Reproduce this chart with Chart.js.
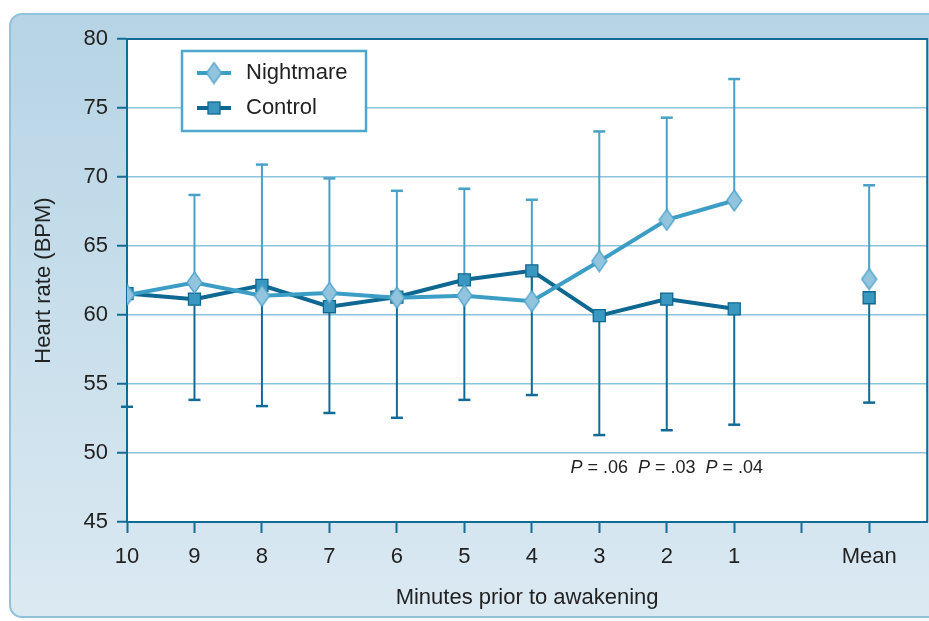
<!DOCTYPE html>
<html>
<head>
<meta charset="utf-8">
<script src="https://cdn.jsdelivr.net/npm/chart.js@4.4.1/dist/chart.umd.min.js"></script>
<style>
  html, body { margin: 0; padding: 0; background: #fff; overflow: hidden; }
</style>
</head>
<body>
<canvas id="mychart" width="937" height="621"></canvas>
<script>
// data
const categories = ['10', '9', '8', '7', '6', '5', '4', '3', '2', '1', '', 'Mean'];
const nightmare = [61.45, 62.35, 61.4, 61.6, 61.25, 61.4, 61.0, 63.9, 66.9, 68.3, null, 62.6];
const nightmareUpper = [null, 68.7, 70.9, 69.9, 69.0, 69.15, 68.35, 73.3, 74.3, 77.1, null, 69.4];
const control = [61.55, 61.15, 62.15, 60.6, 61.3, 62.55, 63.2, 59.95, 61.15, 60.45, null, 61.25];
const controlLower = [53.35, 53.85, 53.4, 52.9, 52.55, 53.85, 54.2, 51.3, 51.65, 52.05, null, 53.65];
const yTicks = [45, 50, 55, 60, 65, 70, 75, 80];
const pLabels = ['', '', '', '', '', '', '', '.06', '.03', '.04', '', ''];

const dark = '#136c96';
const gridCol = '#8cc4dc';
const FONT = '"Liberation Sans", Arial, Helvetica, sans-serif';

function diamond(w, h, fill, stroke) {
    const c = document.createElement('canvas');
    c.width = w + 2;
    c.height = h + 2;
    const g = c.getContext('2d');
    g.beginPath();
    g.moveTo(w / 2 + 1, 1);
    g.lineTo(w + 1, h / 2 + 1);
    g.lineTo(w / 2 + 1, h + 1);
    g.lineTo(1, h / 2 + 1);
    g.closePath();
    g.fillStyle = fill;
    g.fill();
    g.lineWidth = 1.3;
    g.strokeStyle = stroke;
    g.stroke();
    return c;
}
const diamondImg = diamond(15, 21, '#93c4dd', '#4fa5cb');

const toPoints = arr => arr.map((v, i) => ({x: i, y: v}));

// background frame + white plot area
const frame = {
    id: 'frame',
    beforeDraw(chart) {
        const {ctx, chartArea: a} = chart;
        ctx.save();
        const g = ctx.createLinearGradient(0, 15, 0, 617);
        g.addColorStop(0, '#b6d4e5');
        g.addColorStop(1, '#dbe9f2');
        ctx.beginPath();
        ctx.roundRect(10, 14, 950, 603, 12);
        ctx.fillStyle = g;
        ctx.fill();
        ctx.lineWidth = 2;
        ctx.strokeStyle = '#90c2da';
        ctx.stroke();
        ctx.fillStyle = '#fff';
        ctx.fillRect(a.left, a.top, a.right - a.left, a.bottom - a.top);
        ctx.restore();
    }
};

// one-sided error bars
const errorBars = {
    id: 'errorBars',
    beforeDatasetsDraw(chart) {
        const {ctx, scales: {x, y}} = chart;
        ctx.save();
        ctx.lineWidth = 2;
        function draw(means, ends, color) {
            ctx.strokeStyle = color;
            means.forEach((m, i) => {
                if (m == null || ends[i] == null) return;
                const px = x.getPixelForValue(i);
                const y0 = y.getPixelForValue(m);
                const y1 = y.getPixelForValue(ends[i]);
                ctx.beginPath();
                ctx.moveTo(px, y0);
                ctx.lineTo(px, y1);
                ctx.stroke();
                ctx.lineWidth = 2.5;
                ctx.beginPath();
                ctx.moveTo(px - 6, y1);
                ctx.lineTo(px + 6, y1);
                ctx.stroke();
                ctx.lineWidth = 2;
            });
        }
        draw(nightmare, nightmareUpper, '#48a2c8');
        draw(control, controlLower, '#126b94');
        ctx.restore();
    }
};

// plot border, legend box, P values
const extras = {
    id: 'extras',
    afterDraw(chart) {
        const {ctx, chartArea: a, scales: {x, y}} = chart;
        ctx.save();
        ctx.strokeStyle = dark;
        ctx.lineWidth = 2;
        ctx.beginPath();
        ctx.moveTo(a.left, a.top);
        ctx.lineTo(a.right, a.top);
        ctx.lineTo(a.right, a.bottom);
        ctx.stroke();

        // legend
        ctx.fillStyle = '#fff';
        ctx.fillRect(182, 51, 184, 80);
        ctx.strokeStyle = '#4fa7cc';
        ctx.lineWidth = 2.5;
        ctx.strokeRect(182, 51, 184, 80);
        const items = [
            {label: 'Nightmare', ds: chart.data.datasets[0], y: 73},
            {label: 'Control', ds: chart.data.datasets[1], y: 108}
        ];
        items.forEach(it => {
            ctx.strokeStyle = it.ds.borderColor;
            ctx.lineWidth = 4;
            ctx.beginPath();
            ctx.moveTo(197, it.y);
            ctx.lineTo(231, it.y);
            ctx.stroke();
            const ps = it.ds.pointStyle;
            if (ps instanceof HTMLCanvasElement) {
                ctx.drawImage(ps, 214 - ps.width / 2, it.y - ps.height / 2);
            } else {
                ctx.fillStyle = it.ds.pointBackgroundColor;
                ctx.strokeStyle = it.ds.pointBorderColor;
                ctx.lineWidth = 1.3;
                ctx.fillRect(208, it.y - 6, 12, 12);
                ctx.strokeRect(208, it.y - 6, 12, 12);
            }
            ctx.fillStyle = '#222';
            ctx.font = '22px ' + FONT;
            ctx.textBaseline = 'middle';
            ctx.textAlign = 'left';
            ctx.fillText(it.label, 246, it.y);
        });

        // P values
        ctx.fillStyle = '#222';
        ctx.textBaseline = 'middle';
        ctx.textAlign = 'left';
        const py = y.getPixelForValue(48.9);
        pLabels.forEach((p, i) => {
            if (!p) return;
            ctx.font = 'italic 18px ' + FONT;
            const w1 = ctx.measureText('P').width;
            ctx.font = '18px ' + FONT;
            const rest = ' = ' + p;
            const w2 = ctx.measureText(rest).width;
            const sx = x.getPixelForValue(i) - (w1 + w2) / 2;
            ctx.font = 'italic 18px ' + FONT;
            ctx.fillText('P', sx, py);
            ctx.font = '18px ' + FONT;
            ctx.fillText(rest, sx + w1, py);
        });
        ctx.restore();
    }
};

const canvas = document.getElementById('mychart');

const grafico = new Chart(canvas, {
    type: 'line',
    data: {
        datasets: [
            {
                label: 'Nightmare',
                data: toPoints(nightmare),
                borderColor: '#3d9ec5',
                borderWidth: 4,
                pointStyle: diamondImg,
                pointBackgroundColor: '#93c4dd',
                pointBorderColor: '#4fa5cb',
                spanGaps: false
            },
            {
                label: 'Control',
                data: toPoints(control),
                borderColor: '#0f6891',
                borderWidth: 4,
                pointStyle: 'rect',
                pointRadius: 8.5,
                pointBorderWidth: 1.3,
                pointBackgroundColor: '#3a97c0',
                pointBorderColor: '#0f6891',
                spanGaps: false
            }
        ]
    },
    options: {
        responsive: false,
        animation: false,
        layout: { padding: { left: 0, top: 39, right: 2, bottom: 0 } },
        plugins: {
            legend: { display: false },
            tooltip: { enabled: false }
        },
        scales: {
            x: {
                type: 'linear',
                min: 0,
                max: 11.86,
                afterBuildTicks: s => { s.ticks = categories.map((c, i) => ({value: i})); },
                afterFit: s => { s.height = 99; },
                ticks: {
                    callback: v => categories[v],
                    color: '#222',
                    font: { family: FONT, size: 22 },
                    padding: 11,
                    maxRotation: 0,
                    autoSkip: false
                },
                grid: {
                    drawOnChartArea: false,
                    drawTicks: true,
                    tickLength: 11,
                    tickColor: dark,
                    tickWidth: 2
                },
                border: { color: dark, width: 2 },
                title: {
                    display: true,
                    text: 'Minutes prior to awakening',
                    color: '#222',
                    font: { family: FONT, size: 22 },
                    padding: { top: 0, bottom: 10 }
                }
            },
            y: {
                min: 45,
                max: 80,
                afterBuildTicks: s => { s.ticks = yTicks.map(v => ({value: v})); },
                afterFit: s => { s.width = 127; },
                ticks: {
                    color: '#222',
                    font: { family: FONT, size: 22 },
                    padding: 9
                },
                grid: {
                    color: c => (c.tick && c.tick.value > 45 && c.tick.value < 80) ? gridCol : 'rgba(0,0,0,0)',
                    lineWidth: 1.5,
                    drawTicks: true,
                    tickLength: 10,
                    tickColor: dark,
                    tickWidth: 2
                },
                border: { color: dark, width: 2 },
                title: {
                    display: true,
                    text: 'Heart rate (BPM)',
                    color: '#222',
                    font: { family: FONT, size: 22 },
                    padding: { top: 31, bottom: 0 }
                }
            }
        }
    },
    plugins: [frame, errorBars, extras]
});
</script>
</body>
</html>
